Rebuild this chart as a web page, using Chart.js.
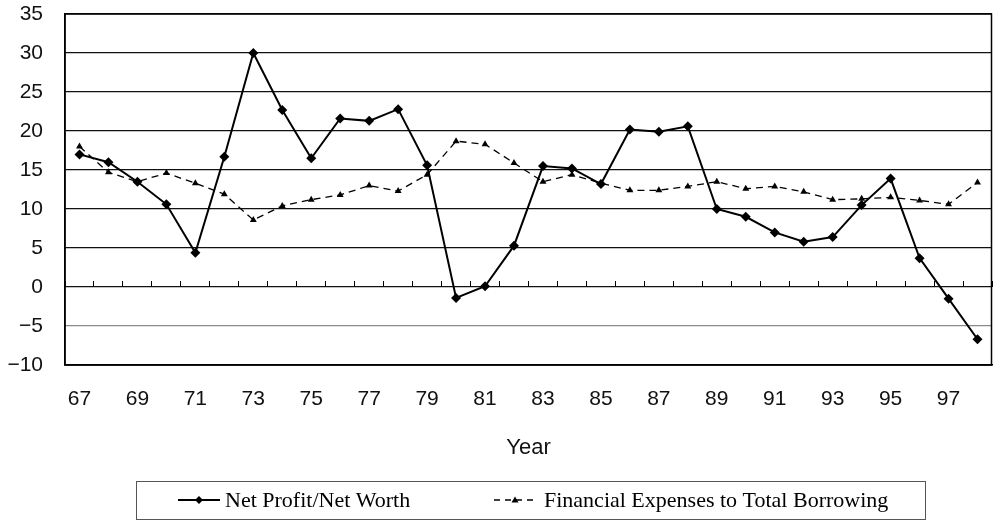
<!DOCTYPE html>
<html>
<head>
<meta charset="utf-8">
<script src="https://cdn.jsdelivr.net/npm/chart.js@4.4.1/dist/chart.umd.min.js"></script>
<style>
html,body{margin:0;padding:0;background:#fff;}
#wrap{width:997px;height:520px;position:relative;}
</style>
</head>
<body>
<div id="wrap"><canvas id="c"></canvas></div>
<script>
// ---- data ----
const years = ['67','68','69','70','71','72','73','74','75','76','77','78','79','80','81','82',
               '83','84','85','86','87','88','89','90','91','92','93','94','95','96','97','98'];
const xTickLabels = ['67','69','71','73','75','77','79','81','83','85','87','89','91','93','95','97'];
const netProfit = [17.0,16.0,13.5,10.6,4.4,16.7,30.0,22.7,16.5,21.6,21.3,22.8,15.6,-1.4,0.1,5.3,
                   15.5,15.2,13.2,20.2,19.9,20.6,10.0,9.0,7.0,5.8,6.4,10.5,13.9,3.7,-1.5,-6.7];
const finExpenses = [18.0,14.7,13.5,14.6,13.3,11.9,8.6,10.4,11.2,11.8,13.0,12.3,14.4,18.7,18.3,15.9,
                     13.5,14.4,13.3,12.4,12.4,12.9,13.5,12.6,12.9,12.2,11.2,11.3,11.5,11.1,10.6,13.4];
const yTickValues = [-10,-5,0,5,10,15,20,25,30,35];
const yTickLabels = ['\u221210','\u22125','0','5','10','15','20','25','30','35'];
const seriesNames = ['Net Profit/Net Worth','Financial Expenses to Total Borrowing'];
const xTitle = 'Year';

const SANS = "'Liberation Sans', Arial, sans-serif";
const SERIF = "'Liberation Serif', 'Times New Roman', serif";

// frame around the plot area
const framePlugin = {
  id: 'frame',
  beforeDatasetsDraw(chart) {
    const {ctx, chartArea: a} = chart;
    ctx.save();
    ctx.strokeStyle = '#000';
    ctx.lineWidth = 1.5;
    ctx.strokeRect(a.left, a.top, a.right - a.left - 0.5, a.bottom - a.top);
    ctx.restore();
  }
};

// boxed legend at the bottom
const boxedLegend = {
  id: 'boxedLegend',
  afterDraw(chart) {
    const ctx = chart.ctx;
    const ds = chart.data.datasets;
    const box = {x: 136.5, y: 481.5, w: 789, h: 38};
    const cy = 500;
    ctx.save();
    ctx.strokeStyle = '#555';
    ctx.lineWidth = 1;
    ctx.strokeRect(box.x, box.y, box.w, box.h);
    const items = [
      {sx: 178, ex: 220, tx: 225},
      {sx: 494, ex: 536, tx: 544}
    ];
    items.forEach((it, i) => {
      const d = ds[i];
      ctx.strokeStyle = '#000';
      ctx.fillStyle = '#000';
      ctx.lineWidth = i === 0 ? 2 : 1.3;
      ctx.setLineDash(i === 0 ? [] : [6, 5]);
      ctx.beginPath();
      ctx.moveTo(it.sx, cy);
      ctx.lineTo(it.ex, cy);
      ctx.stroke();
      ctx.setLineDash([]);
      const mx = (it.sx + it.ex) / 2;
      ctx.beginPath();
      if (i === 0) {
        ctx.moveTo(mx, cy - 4); ctx.lineTo(mx + 4, cy); ctx.lineTo(mx, cy + 4); ctx.lineTo(mx - 4, cy);
      } else {
        ctx.moveTo(mx, cy - 3.5); ctx.lineTo(mx + 3.5, cy + 2.5); ctx.lineTo(mx - 3.5, cy + 2.5);
      }
      ctx.closePath();
      ctx.fill();
      ctx.font = '22px ' + SERIF;
      ctx.textBaseline = 'middle';
      ctx.textAlign = 'left';
      ctx.fillText(d.label, it.tx, cy + 1);
    });
    ctx.restore();
  }
};

new Chart(document.getElementById('c'), {
  type: 'line',
  data: {
    labels: years,
    datasets: [
      {
        label: seriesNames[0],
        data: netProfit,
        borderColor: '#000',
        backgroundColor: '#000',
        borderWidth: 2,
        pointStyle: 'rectRot',
        pointRadius: 5,
        pointBorderWidth: 0,
        tension: 0,
        fill: false
      },
      {
        label: seriesNames[1],
        data: finExpenses,
        borderColor: '#000',
        backgroundColor: '#000',
        borderWidth: 1.3,
        borderDash: [7, 5],
        pointStyle: 'triangle',
        pointRadius: 4,
        pointBorderWidth: 0,
        tension: 0,
        fill: false
      }
    ]
  },
  options: {
    responsive: true,
    maintainAspectRatio: false,
    animation: false,
    layout: {padding: {top: 14, right: 1, bottom: 59, left: 0}},
    plugins: {
      legend: {display: false},
      tooltip: {enabled: false},
      title: {display: false}
    },
    scales: {
      x: {
        type: 'category',
        offset: true,
        afterFit(scale) { scale.height = 96; scale.paddingLeft = 0; scale.paddingRight = 0; },
        grid: {display: true, drawOnChartArea: false, drawTicks: false},
        border: {display: true, color: '#000', width: 1.5},
        ticks: {
          autoSkip: false,
          maxRotation: 0,
          padding: 22,
          color: '#111',
          font: {family: SANS, size: 21},
          callback: function(value, index) {
            const lab = years[index];
            return xTickLabels.includes(lab) ? lab : '';
          }
        },
        title: {
          display: true,
          text: xTitle,
          color: '#111',
          font: {family: SANS, size: 22},
          padding: {top: 21, bottom: 0}
        }
      },
      xz: {
        axis: 'x',
        type: 'category',
        labels: years,
        position: {y: 0},
        offset: true,
        afterFit(scale) { scale.height = 0; scale.paddingLeft = 0; scale.paddingRight = 0; },
        grid: {display: true, drawOnChartArea: false, drawTicks: true, tickLength: -6, color: '#000', lineWidth: 1, offset: true},
        border: {display: false},
        ticks: {display: false}
      },
      y: {
        min: -10,
        max: 35,
        afterFit(scale) { scale.width = 65; scale.paddingTop = 0; scale.paddingBottom = 0; },
        afterBuildTicks(scale) { scale.ticks = yTickValues.map(v => ({value: v})); },
        grid: {
          drawTicks: false,
          lineWidth: 1.2,
          color: (c) => (c.tick && c.tick.value === -5) ? '#8a8a8a' : '#111'
        },
        border: {display: true, color: '#000', width: 1.5},
        ticks: {
          padding: 22,
          color: '#111',
          font: {family: SANS, size: 21},
          callback: function(value) {
            const i = yTickValues.indexOf(value);
            return i >= 0 ? yTickLabels[i] : '';
          }
        }
      }
    }
  },
  plugins: [framePlugin, boxedLegend]
});
</script>
</body>
</html>
